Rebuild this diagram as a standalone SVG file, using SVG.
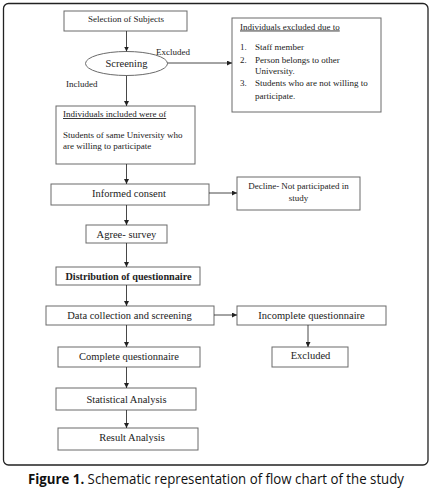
<svg xmlns="http://www.w3.org/2000/svg" width="437" height="492" viewBox="0 0 437 492">
<defs>
<marker id="ah" viewBox="0 0 10 10" refX="10" refY="5" markerWidth="5" markerHeight="5" orient="auto" markerUnits="userSpaceOnUse">
<path d="M0,0 L10,5 L0,10 z" fill="#222"/>
</marker>
<style>
.box{fill:#fff;stroke:#6a6a6a;stroke-width:1}
.t{font-family:"Liberation Serif","Times New Roman",serif;fill:#222}
.s9{font-size:9px}
.s10{font-size:10.5px}
.c{text-anchor:middle}
.con line{stroke:#333;stroke-width:0.9;marker-end:url(#ah)}
</style>
</defs>
<rect x="0" y="0" width="437" height="492" fill="#fff"/>
<rect x="3.5" y="3.5" width="424.5" height="461.5" rx="5" fill="none" stroke="#222" stroke-width="1.3"/>

<g id="n-selection"><rect class="box" x="64" y="11" width="123" height="20"/><text class="t s9 c" x="126" y="22">Selection of Subjects</text></g>
<g id="n-screening"><ellipse class="box" cx="126.5" cy="63.5" rx="41" ry="12"/><text class="t s10 c" x="126.5" y="67">Screening</text></g>
<g id="n-excluded-due"><rect class="box" x="232" y="18" width="149" height="94"/>
<text class="t s9" x="240" y="29.5" text-decoration="underline">Individuals excluded due to</text>
<text class="t s9" x="240" y="49.5">1.</text><text class="t s9" x="255" y="49.5">Staff member</text>
<text class="t s9" x="240" y="63">2.</text><text class="t s9" x="255" y="63">Person belongs to other</text>
<text class="t s9" x="255" y="73.5">University.</text>
<text class="t s9" x="240" y="86">3.</text><text class="t s9" x="255" y="86">Students who are not willing to</text>
<text class="t s9" x="255" y="98.5">participate.</text></g>
<g id="n-included"><rect class="box" x="56" y="106" width="139" height="58"/>
<text class="t s9" x="63" y="117" text-decoration="underline">Individuals included were of</text>
<text class="t s9" x="63" y="138">Students of same University who</text>
<text class="t s9" x="63" y="149">are willing  to participate</text></g>
<g id="n-informed"><rect class="box" x="51" y="184" width="158" height="21"/><text class="t s10 c" x="129" y="197">Informed consent</text></g>
<g id="n-decline"><rect class="box" x="237" y="177" width="123" height="33"/><text class="t s9 c" x="298.5" y="189">Decline- Not participated in</text><text class="t s9 c" x="298.5" y="201">study</text></g>
<g id="n-agree"><rect class="box" x="86" y="225" width="81" height="18"/><text class="t s10 c" x="126.5" y="237.5">Agree- survey</text></g>
<g id="n-distribution"><rect class="box" x="56" y="267" width="144" height="18"/><text class="t c" x="128.5" y="280" font-size="10.2px" font-weight="bold">Distribution of questionnaire</text></g>
<g id="n-data"><rect class="box" x="46" y="306" width="168" height="19"/><text class="t s10 c" x="129.5" y="318.5">Data collection and screening</text></g>
<g id="n-incomplete"><rect class="box" x="237" y="306" width="149" height="19"/><text class="t s10 c" x="311.5" y="318.5">Incomplete questionnaire</text></g>
<g id="n-excluded"><rect class="box" x="272" y="347" width="76" height="20"/><text class="t s10 c" x="310.5" y="359">Excluded</text></g>
<g id="n-complete"><rect class="box" x="58" y="347" width="142" height="20"/><text class="t s10 c" x="129" y="360">Complete questionnaire</text></g>
<g id="n-statistical"><rect class="box" x="56" y="388" width="140" height="22"/><text class="t s10 c" x="126.5" y="402.5">Statistical Analysis</text></g>
<g id="n-result"><rect class="box" x="58" y="428" width="140" height="22"/><text class="t s10 c" x="132" y="441">Result Analysis</text></g>

<g id="labels">
<text class="t s9" x="156" y="55">Excluded</text>
<text class="t s9" x="66" y="87">Included</text>
</g>

<g id="connectors" class="con">
<line x1="126.5" y1="31" x2="126.5" y2="51.5"/>
<line x1="126.5" y1="75.5" x2="126.5" y2="106"/>
<line x1="167.5" y1="63" x2="232" y2="63"/>
<line x1="126.5" y1="164" x2="126.5" y2="184"/>
<line x1="209" y1="193" x2="237" y2="193"/>
<line x1="126.5" y1="205" x2="126.5" y2="225"/>
<line x1="126.5" y1="243" x2="126.5" y2="267"/>
<line x1="126.5" y1="285" x2="126.5" y2="306"/>
<line x1="214" y1="315" x2="237" y2="315"/>
<line x1="308" y1="325" x2="308" y2="347"/>
<line x1="126.5" y1="325" x2="126.5" y2="347"/>
<line x1="126.5" y1="367" x2="126.5" y2="388"/>
<line x1="126.5" y1="410" x2="126.5" y2="428"/>
</g>

<text x="28" y="484" font-family="'Open Sans','Noto Sans',sans-serif" font-size="14px" fill="#111" textLength="376" lengthAdjust="spacingAndGlyphs"><tspan font-weight="bold">Figure 1.</tspan> Schematic representation of flow chart of the study</text>
</svg>
